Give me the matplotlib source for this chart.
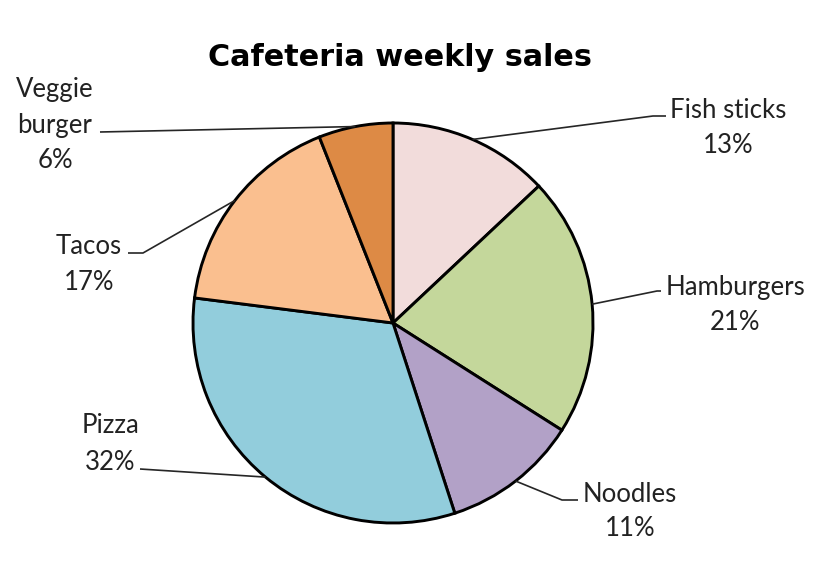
import numpy as np
import matplotlib
matplotlib.use("Agg")
import matplotlib.pyplot as plt

# ---- data ----
categories = ["Fish sticks", "Hamburgers", "Noodles", "Pizza", "Tacos", "Veggie burger"]
label_texts = ["Fish sticks\n13%", "Hamburgers\n21%", "Noodles\n11%", "Pizza\n32%", "Tacos\n17%", "Veggie\nburger\n6%"]
values = [13, 21, 11, 32, 17, 6]
colors = ["#F2DCDB", "#C4D79B", "#B2A1C7", "#92CDDC", "#FABF8F", "#DD8A45"]
title = "Cafeteria weekly sales"

W, H = 816, 566
fig = plt.figure(figsize=(W / 100, H / 100), dpi=100)
ax = fig.add_axes([0, 0, 1, 1])

def P(x, y):
    return (x, H - y)

cx, cy = 393, 323
R = 200
wedges, _ = ax.pie(values, colors=colors, startangle=90, counterclock=False,
                   center=P(cx, cy), radius=R, frame=True,
                   wedgeprops=dict(edgecolor="black", linewidth=2.1))
ax.set_xlim(0, W)
ax.set_ylim(0, H)
ax.set_aspect("equal")
ax.axis("off")

# label layout (pixel positions): text center, elbow point, line end near text
text_pos = [(728, 128), (735, 305), (630, 511), (110, 444), (89, 265), (55, 125)]
elbows = [(653, 116), (657, 291), (562, 500), (140, 469), (143, 253), (100, 132)]
ends = [(666, 116), (661, 291), (578, 500), (140, 469), (128, 253), (100, 132)]
line_spacing = [1.5, 1.52, 1.45, 1.6, 1.55, 1.52]

for w, txt, tp, el, en, ls in zip(wedges, label_texts, text_pos, elbows, ends, line_spacing):
    ang = np.deg2rad((w.theta1 + w.theta2) / 2)
    ex = w.center[0] + R * np.cos(ang)
    ey = w.center[1] + R * np.sin(ang)
    elx, ely = P(*el)
    enx, eny = P(*en)
    ax.plot([ex, elx, enx], [ey, ely, eny], color="#262626", lw=1.2,
            solid_capstyle="butt", zorder=1)
    ax.text(*P(*tp), txt, ha="center", va="center", fontsize=18.5,
            family="Lato", color="#222222", linespacing=ls)

ax.text(*P(400, 57), title, ha="center", va="center", fontsize=21.8,
        fontweight="bold", family="DejaVu Sans", color="black")

fig.savefig("out.png", dpi=100, facecolor="white")
